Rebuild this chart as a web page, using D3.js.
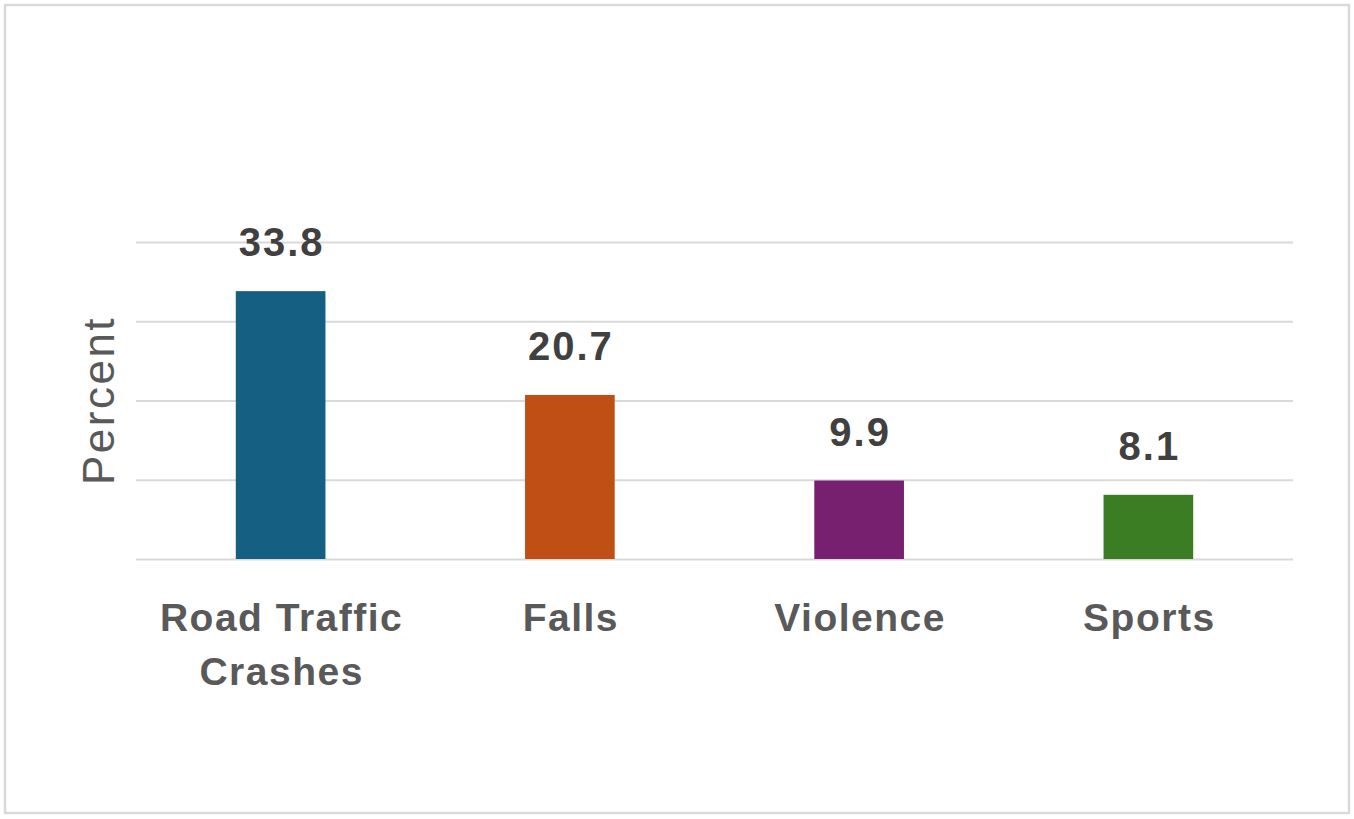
<!DOCTYPE html>
<html>
<head>
<meta charset="utf-8">
<script src="https://cdn.jsdelivr.net/npm/d3@7"></script>
<style>
	body { margin: 0; background: #fff; }
	svg { display: block; }
	text { font-family: "Liberation Sans", Arial, sans-serif; }
</style>
</head>
<body>
<div id="chart"></div>
<script>
// chart data
const categories = [["Road Traffic", "Crashes"], ["Falls"], ["Violence"], ["Sports"]],
	values = [33.8, 20.7, 9.9, 8.1],
	barColors = ["#156082", "#C04F15", "#782070", "#3B7D23"],
	gridTicks = [0, 10, 20, 30, 40],
	yTitle = "Percent";

const W = 1354, H = 819;
const margin = {top: 242, right: 61, bottom: 260, left: 136},
	width = W - margin.left - margin.right,
	height = H - margin.top - margin.bottom;

const svg = d3.select("#chart").append("svg")
	.attr("width", W)
	.attr("height", H);

// outer frame
svg.append("rect")
	.attr("x", 5).attr("y", 5)
	.attr("width", W - 10).attr("height", H - 11)
	.attr("fill", "#fff")
	.attr("stroke", "#d9d9d9")
	.attr("stroke-width", 2.5);

const chart = svg.append("g")
	.attr("transform", "translate(" + margin.left + "," + margin.top + ")");

const x = d3.scaleBand()
	.domain(d3.range(values.length))
	.range([0, width])
	.paddingInner(0.69)
	.paddingOuter(0.345);

const y = d3.scaleLinear()
	.domain([0, 40])
	.range([height, 0]);

// gridlines
chart.append("g")
	.attr("class", "grid")
	.call(d3.axisLeft(y).tickValues(gridTicks).tickSize(-width).tickFormat(""))
	.call(g => g.select(".domain").remove())
	.call(g => g.selectAll("line").attr("stroke", "#d9d9d9").attr("stroke-width", 2));

// bars
chart.selectAll(".bar")
	.data(values)
	.enter().append("rect")
	.attr("class", "bar")
	.attr("x", (d, i) => x(i))
	.attr("width", x.bandwidth())
	.attr("y", d => y(d))
	.attr("height", d => y(0) - y(d))
	.attr("fill", (d, i) => barColors[i]);

// value labels
chart.selectAll(".val")
	.data(values)
	.enter().append("text")
	.attr("class", "val")
	.attr("x", (d, i) => x(i) + x.bandwidth() / 2 + 1)
	.attr("y", d => y(d) - 35)
	.attr("text-anchor", "middle")
	.attr("font-size", 40)
	.attr("font-weight", "bold")
	.attr("letter-spacing", 2)
	.attr("fill", "#404040")
	.text(d => d.toFixed(1));

// category labels
const cats = chart.selectAll(".cat")
	.data(categories)
	.enter().append("text")
	.attr("class", "cat")
	.attr("x", (d, i) => x(i) + x.bandwidth() / 2 + 1)
	.attr("y", height + 72)
	.attr("text-anchor", "middle")
	.attr("font-size", 39)
	.attr("font-weight", "bold")
	.attr("letter-spacing", 1.5)
	.attr("fill", "#595959");

cats.selectAll("tspan")
	.data(d => d)
	.enter().append("tspan")
	.attr("x", function () { return this.parentNode.getAttribute("x"); })
	.attr("dy", (d, i) => i === 0 ? 0 : 54)
	.text(d => d);

// y title
svg.append("text")
	.attr("transform", "translate(114," + (margin.top + height / 2) + ") rotate(-90)")
	.attr("text-anchor", "middle")
	.attr("font-size", 44)
	.attr("letter-spacing", 2.5)
	.attr("fill", "#595959")
	.text(yTitle);
</script>
</body>
</html>
